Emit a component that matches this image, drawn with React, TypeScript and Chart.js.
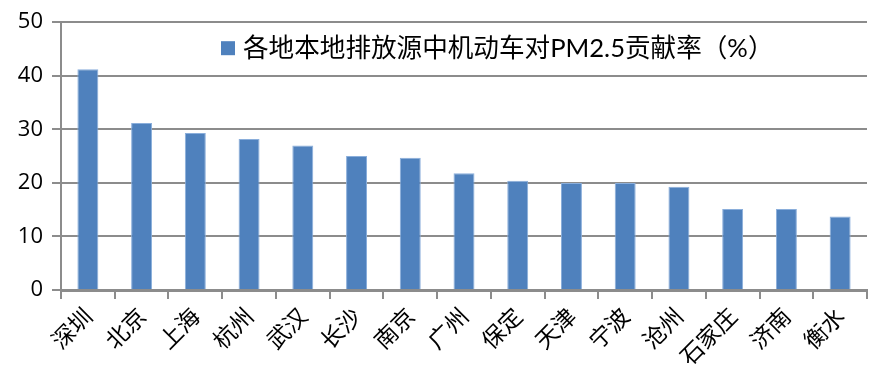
import React, { useEffect, useRef } from "react";
import { Chart, registerables } from "chart.js";

Chart.register(...registerables);

const categories: string[] = [
  "深圳", "北京", "上海", "杭州", "武汉", "长沙", "南京", "广州",
  "保定", "天津", "宁波", "沧州", "石家庄", "济南", "衡水",
];
const seriesLabel = "各地本地排放源中机动车对PM2.5贡献率（%）";
const seriesValues: number[] = [
  41.2, 31.2, 29.3, 28.2, 27.0, 25.0, 24.7, 21.8,
  20.4, 20.0, 20.0, 19.3, 15.1, 15.1, 13.7,
];
const yTicks: number[] = [0, 10, 20, 30, 40, 50];

const BAR_COLOR = "#4F81BD";
const GRID_COLOR = "#8C8C8C";
const LATIN_FONT = "'Open Sans', 'Noto Sans CJK SC', sans-serif";
const LEGEND_FONT = "Lato, 'Noto Sans CJK SC', sans-serif";
const CJK_FONT = "'Noto Sans CJK SC', sans-serif";

const insideLegend = {
  id: "insideLegend",
  afterDraw(chart: any) {
    const { ctx, chartArea } = chart;
    const ds = chart.data.datasets[0];
    const x = chartArea.left + 160;
    const y = chartArea.top + 26;
    ctx.save();
    ctx.fillStyle = ds.backgroundColor as string;
    ctx.fillRect(x, y - 7, 14, 14);
    ctx.font = `25.6px ${LEGEND_FONT}`;
    ctx.fillStyle = "#000";
    ctx.textBaseline = "middle";
    ctx.textAlign = "left";
    ctx.fillText(ds.label, x + 22, y + 1);
    ctx.restore();
  },
};

export default function App() {
  const ref = useRef<HTMLCanvasElement | null>(null);

  useEffect(() => {
    document.body.style.margin = "0";
    const canvas = ref.current;
    if (!canvas) return;
    const chart = new Chart(canvas, {
      type: "bar",
      data: {
        labels: categories,
        datasets: [
          {
            label: seriesLabel,
            data: seriesValues,
            backgroundColor: BAR_COLOR,
            borderColor: "#8AAEDB",
            borderWidth: 1,
            barPercentage: 0.39,
            categoryPercentage: 1,
          },
        ],
      },
      options: {
        animation: false,
        responsive: false,
        maintainAspectRatio: false,
        layout: { padding: { left: 0, right: 10, top: 22, bottom: 0 } },
        plugins: {
          legend: { display: false },
          tooltip: { enabled: false },
        },
        scales: {
          x: {
            offset: true,
            afterFit: (scale: any) => {
              scale.height = 93;
            },
            grid: {
              offset: true,
              drawOnChartArea: false,
              drawTicks: true,
              tickLength: 9,
              color: GRID_COLOR,
              lineWidth: 2,
            },
            border: { display: true, color: GRID_COLOR, width: 3 },
            ticks: {
              autoSkip: false,
              maxRotation: 45,
              minRotation: 45,
              padding: 3,
              color: "#000",
              font: { family: CJK_FONT, size: 23 },
            },
          },
          y: {
            min: 0,
            max: 50,
            afterFit: (scale: any) => {
              scale.width = 61;
            },
            afterBuildTicks: (scale: any) => {
              scale.ticks = yTicks.map((v) => ({ value: v }));
            },
            grid: {
              color: GRID_COLOR,
              lineWidth: 2,
              tickLength: 9,
              drawTicks: true,
            },
            border: { display: true, color: GRID_COLOR, width: 2 },
            ticks: {
              padding: 9,
              color: "#000",
              font: { family: LATIN_FONT, size: 22 },
            },
          },
        },
      },
      plugins: [insideLegend],
    });
    return () => chart.destroy();
  }, []);

  return (
    <div style={{ width: 877, height: 383, background: "#fff" }}>
      <canvas ref={ref} width={877} height={383} style={{ display: "block" }} />
    </div>
  );
}
